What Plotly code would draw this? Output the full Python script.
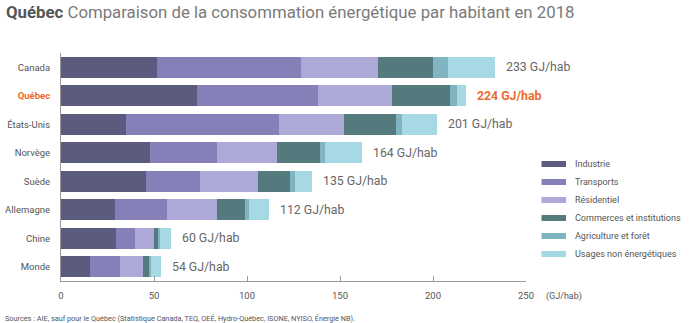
import plotly.graph_objects as go

countries = ["Canada", "Québec", "États-Unis", "Norvège", "Suède", "Allemagne", "Chine", "Monde"]
sectors = ["Industrie", "Transports", "Résidentiel", "Commerces et institutions",
           "Agriculture et forêt", "Usages non énergétiques"]
industrie = [51.6, 73.0, 34.8, 47.7, 45.9, 28.9, 29.5, 15.6]
transports = [77.3, 65.2, 82.2, 36.0, 28.8, 27.9, 10.1, 16.0]
residentiel = [41.4, 40.0, 35.0, 32.3, 31.4, 27.3, 10.2, 12.3]
commerces = [29.7, 30.8, 28.0, 23.1, 16.9, 14.7, 2.7, 3.9]
agriculture = [8.0, 4.1, 3.2, 2.7, 3.0, 2.1, 0.8, 0.8]
usages = [25.2, 4.9, 19.0, 20.2, 9.2, 11.1, 5.7, 5.4]
total_labels = ["233", "224", "201", "164", "135", "112", "60", "54"]
x_ticks = [0, 50, 100, 150, 200, 250]

series = [industrie, transports, residentiel, commerces, agriculture, usages]
colors = ["#5b5a7f", "#8580b7", "#aca8d8", "#547a7e", "#80b4c1", "#a6d9e3"]
ORANGE = "#ee6b2d"
FONT = "Roboto"

W, H = 700, 323
ml, mr, mt, mb = 61, 174, 53, 42
pw, ph = W - ml - mr, H - mt - mb

def px(x):
    return (x - ml) / pw

def py(y):
    return (H - mb - y) / ph

fig = go.Figure()
for name, vals, col in zip(sectors, series, colors):
    fig.add_trace(go.Bar(
        y=countries, x=vals, name=name, orientation="h",
        marker=dict(color=col, line=dict(width=0)),
        showlegend=False, hoverinfo="x+name",
    ))

annotations = []
for i, c in enumerate(countries):
    tot = sum(s[i] for s in series)
    is_q = c == "Québec"
    annotations.append(dict(
        x=tot, y=c, xref="x", yref="y", xanchor="left", yanchor="middle",
        xshift=9, showarrow=False,
        text=(f"<b>{total_labels[i]} GJ/hab</b>" if is_q else f"{total_labels[i]} GJ/hab"),
        font=dict(family=FONT, size=12.3, color=ORANGE if is_q else "#666666"),
    ))

# legend
shapes = []
leg_y = [164, 182, 200, 218, 236, 254]
for name, col, yy in zip(sectors, colors, leg_y):
    shapes.append(dict(type="rect", xref="paper", yref="paper",
                       x0=px(541.5), x1=px(566), y0=py(yy - 3), y1=py(yy + 3),
                       fillcolor=col, line=dict(width=0)))
    annotations.append(dict(x=px(573), y=py(yy), xref="paper", yref="paper",
                            xanchor="left", yanchor="middle", showarrow=False,
                            text=name, font=dict(family=FONT, size=9, color="#555555")))

# title
annotations.append(dict(x=px(4), y=py(12), xref="paper", yref="paper",
                        xanchor="left", yanchor="middle", showarrow=False,
                        text="<b>Québec</b> <span style='color:#7a7a7a'>Comparaison de la consommation énergétique par habitant en 2018</span>",
                        font=dict(family=FONT, size=16.8, color="#555555")))
# unit
annotations.append(dict(x=px(544), y=py(296), xref="paper", yref="paper",
                        xanchor="left", yanchor="middle", showarrow=False,
                        text="(GJ/hab)", font=dict(family=FONT, size=9, color="#555555")))
# sources
annotations.append(dict(x=px(3), y=py(318), xref="paper", yref="paper",
                        xanchor="left", yanchor="middle", showarrow=False,
                        text="Sources : AIE, sauf pour le Québec (Statistique Canada, TEQ, OEÉ, Hydro-Québec, ISONE, NYISO, Énergie NB).",
                        font=dict(family=FONT, size=7.3, color="#555555")))

fig.update_layout(
    width=W, height=H, barmode="stack", bargap=0.26,
    margin=dict(l=ml, r=mr, t=mt, b=mb, pad=0, autoexpand=False),
    paper_bgcolor="white", plot_bgcolor="white",
    font=dict(family=FONT, color="#555555"),
    annotations=annotations, shapes=shapes, showlegend=False,
    xaxis=dict(range=[0, 250], tickvals=x_ticks, showgrid=False, zeroline=False,
               showline=True, linecolor="#9a9a9a", linewidth=1, automargin=False,
               ticks="inside", ticklen=5, tickcolor="#9a9a9a",
               tickfont=dict(family=FONT, size=9.5, color="#555555"), ticklabelstandoff=6),
    yaxis=dict(categoryorder="array", categoryarray=countries[::-1],
               showgrid=False, zeroline=False, showline=True, linecolor="#9a9a9a", linewidth=1,
               ticks="", ticklabelstandoff=8, automargin=False,
               tickvals=countries,
               ticktext=[f"<b><span style='color:{ORANGE}'>{c}</span></b>" if c == "Québec" else c for c in countries],
               tickfont=dict(family=FONT, size=9.5, color="#555555")),
)

fig.write_html("out.html")
